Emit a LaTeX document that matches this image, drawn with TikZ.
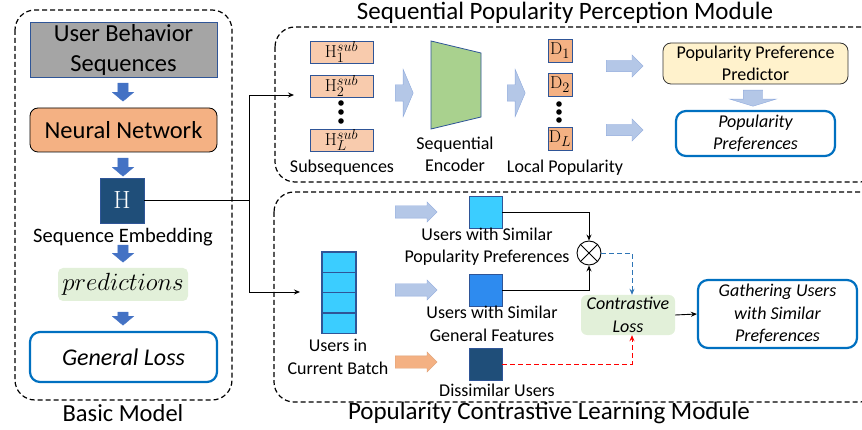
\documentclass[tikz,border=0pt]{standalone}
\usepackage[no-math]{fontspec}
\setmainfont{Carlito}
\usetikzlibrary{shapes.arrows,arrows.meta,positioning}
\definecolor{box gray}{RGB}{165,165,165}
\definecolor{frame blue}{RGB}{47,85,151}
\definecolor{neural orange}{RGB}{244,177,131}
\definecolor{light salmon}{RGB}{248,203,173}
\definecolor{dark navy}{RGB}{31,78,121}
\definecolor{pale green}{RGB}{226,240,217}
\definecolor{loss blue}{RGB}{0,112,192}
\definecolor{encoder green}{RGB}{169,209,142}
\definecolor{pale blue}{RGB}{180,199,231}
\definecolor{pale blue edge}{RGB}{143,170,220}
\definecolor{cream}{RGB}{255,242,204}
\definecolor{sky}{RGB}{59,205,255}
\definecolor{mid blue}{RGB}{46,139,239}
\definecolor{step blue}{RGB}{68,114,196}
\definecolor{dash blue}{RGB}{46,117,182}

\begin{document}
\begin{tikzpicture}[
        x=1pt, y=-1pt,
        every node/.style={font=\fontsize{18}{22.5}\selectfont, align=center, inner sep=0pt},
        module/.style={draw, dash pattern=on 5pt off 3pt, line width=1.2pt, rounded corners=20pt},
        bigtext/.style={font=\fontsize{24.5}{30}\selectfont},
        titletext/.style={font=\fontsize{25}{30}\selectfont},
        midtext/.style={font=\fontsize{20.5}{25}\selectfont},
        seqbox/.style={draw=frame blue, fill=box gray, line width=0.8pt, minimum width=187pt, minimum height=55pt, bigtext},
        nnbox/.style={draw, fill=neural orange, line width=0.8pt, rounded corners=8pt, minimum width=187pt, minimum height=44pt, bigtext},
        embed/.style={draw=frame blue, fill=dark navy, text=white, minimum width=44pt, minimum height=45pt, font=\fontsize{26}{30}\selectfont},
        predbox/.style={fill=pale green, rounded corners=5pt, minimum width=130pt, minimum height=33pt, font=\fontsize{26.5}{30}\selectfont},
        outbox/.style={draw=loss blue, line width=2.2pt, fill=white, rounded corners=10pt, font=\fontsize{18}{22.5}\selectfont\itshape},
        subbox/.style={draw=frame blue, fill=light salmon, line width=0.8pt, minimum width=63pt, minimum height=22pt, font=\fontsize{19}{22}\selectfont},
        dbox/.style={draw=frame blue, fill=neural orange, line width=0.8pt, minimum width=24pt, minimum height=23pt, font=\fontsize{19}{22}\selectfont},
        encoder/.style={draw=frame blue, fill=encoder green, line width=0.8pt},
        predictor/.style={draw=black!80, fill=cream, line width=0.8pt, rounded corners=8pt, minimum width=185pt, minimum height=41pt},
        cell/.style={draw=frame blue, fill=sky, line width=1.5pt, minimum width=34pt, minimum height=20.3pt},
        usersq/.style={draw=frame blue, line width=0.6pt, minimum width=33pt, minimum height=32pt},
        clossbox/.style={fill=pale green, rounded corners=6pt, minimum width=94pt, minimum height=40pt, font=\fontsize{18}{22.5}\selectfont\itshape},
        blockarrow/.style={single arrow, anchor=tail, inner xsep=0pt, minimum width=1pt},
        stepdown/.style={blockarrow, rotate=-90, fill=step blue, draw=step blue, line width=0.4pt, inner ysep=5pt, single arrow head extend=5.5pt, single arrow tip angle=100},
        paleshort/.style={blockarrow, fill=pale blue, draw=pale blue edge, line width=0.4pt, minimum height=18pt, inner ysep=8pt, single arrow head extend=15.5pt, single arrow tip angle=134},
        palelong/.style={blockarrow, fill=pale blue, draw=pale blue edge, line width=0.4pt, minimum height=37pt, inner ysep=5.5pt, single arrow head extend=5.5pt, single arrow tip angle=90},
        paledown/.style={blockarrow, rotate=-90, fill=pale blue, draw=pale blue edge, line width=0.4pt, minimum height=16pt, inner ysep=9.5pt, single arrow head extend=13.5pt, single arrow tip angle=146},
        batcharrow/.style={blockarrow, fill=pale blue, draw=pale blue edge, line width=0.4pt, minimum height=42pt, inner ysep=6pt, single arrow head extend=4pt, single arrow tip angle=90},
        link/.style={line width=0.9pt},
        tip/.style={-{Stealth[length=6pt,width=5pt]}}
    ]
    \useasboundingbox (0,0) rectangle (862,430);
    \clip (0,0) rectangle (862,430);

    \draw[module] (15,10) rectangle (232,400);
    \draw[module] (275,27) rectangle (880,182);
    \draw[module] (274,192) rectangle (880,402);
    \node[bigtext] (basic) at (123,413) {Basic Model};
    \node[titletext] (sppm) at (565,13) {Sequential Popularity Perception Module};
    \node[titletext] (pclm) at (549,413) {Popularity Contrastive Learning Module};

    \node[seqbox] (ubs) at (123.5,49.5) {User Behavior\\Sequences};
    \node[nnbox] (nn) at (123.5,130) {Neural Network};
    \node[embed] (H) at (122,200.5) {$\mathrm{H}$};
    \node[midtext] (seqemb) at (123,237) {Sequence Embedding};
    \node[predbox] (pred) at (123,284.5) {$predictions$};
    \node[outbox, minimum width=187pt, minimum height=50pt, font=\fontsize{24}{28}\selectfont\itshape] (gloss) at (123.5,357) {General Loss};
    \foreach \y/\len [count=\i] in {83/18, 158/18, 245/17, 312/13}
        \node[stepdown, minimum height=\len pt] (down\i) at (123,\y) {};

    \coordinate (split) at (249,200.5);
    \coordinate (topin) at (294,95);
    \coordinate (botin) at (300,292);
    \draw[link] (H.east) -- (split);
    \draw[link,tip] (split) |- (topin);
    \draw[link,tip] (split) |- (botin);

    \foreach \n/\y in {1/52, 2/86, L/140}
        \node[subbox] (sub\n) at (341.5,\y) {$\mathrm{H}_{\n}^{sub}$};
    \foreach \y in {103,112,121}
        \fill (341,\y) circle (2.8);
    \node (subs) at (342,168) {Subsequences};
    \node[paleshort] (enc in) at (395,93) {};
    \draw[encoder] (431,41) -- (481,53) -- (481,117) -- (431,129) -- cycle;
    \node (enc) at (455,154.5) {Sequential\\Encoder};
    \node[paleshort] (enc out) at (507,93) {};
    \foreach \n/\y in {1/50.5, 2/84.5, L/139}
        \node[dbox] (d\n) at (560,\y) {$\mathrm{D}_{\n}$};
    \foreach \y in {104,112,120}
        \fill (559,\y) circle (2.8);
    \node (local) at (565,168) {Local Popularity};
    \node[palelong] (to ppp) at (606,66) {};
    \node[palelong] (to pp) at (606,130) {};
    \node[predictor] (ppp) at (755.5,63.5) {Popularity Preference\\Predictor};
    \node[paledown] (ppp down) at (753,90) {};
    \node[outbox, minimum width=159pt, minimum height=45pt] (pp) at (755.5,133.5) {Popularity\\Preferences};

    \foreach \i in {0,...,3}
        \node[cell] (u\i) at (339,262.2+20.3*\i) {};
    \node (batch) at (338,357) {Users in\\Current Batch};
    \node[batcharrow] (to sq1) at (395,212) {};
    \node[batcharrow] (to sq2) at (395,290) {};
    \node[batcharrow, fill=neural orange, draw=neural orange!90!black] (to sq3) at (395,362) {};
    \node[usersq, fill=sky] (sq1) at (485.5,212) {};
    \node[usersq, fill=mid blue] (sq2) at (485.5,290) {};
    \node[usersq, fill=dark navy] (sq3) at (485.5,364) {};
    \node (simpop) at (487,246.5) {Users with Similar\\Popularity Preferences};
    \node (simgen) at (492,324) {Users with Similar\\General Features};
    \node (dissim) at (497,390) {Dissimilar Users};
    \node[draw, circle, fill=white, line width=0.9pt, minimum size=24pt] (ox) at (589,253) {};
    \draw[line width=0.9pt] (ox.north west) -- (ox.south east) (ox.north east) -- (ox.south west);
    \node[clossbox] (closs) at (628,315) {Contrastive\\Loss};
    \node[outbox, minimum width=159pt, minimum height=68pt] (gather) at (777.5,314) {Gathering Users\\with Similar\\Preferences};
    \draw[link,tip] (sq1.east) -| (ox.north);
    \draw[link,tip] (sq2.east) -| (ox.south);
    \draw[link,tip,dash blue,dash pattern=on 5pt off 3pt] (ox.east) -| ([xshift=4pt]closs.north);
    \draw[link,tip,red,dash pattern=on 5pt off 3pt] (sq3.east) -| ([xshift=4pt]closs.south);
    \draw[link,tip] (closs.east) -- (gather.west);
\end{tikzpicture}
\end{document}
